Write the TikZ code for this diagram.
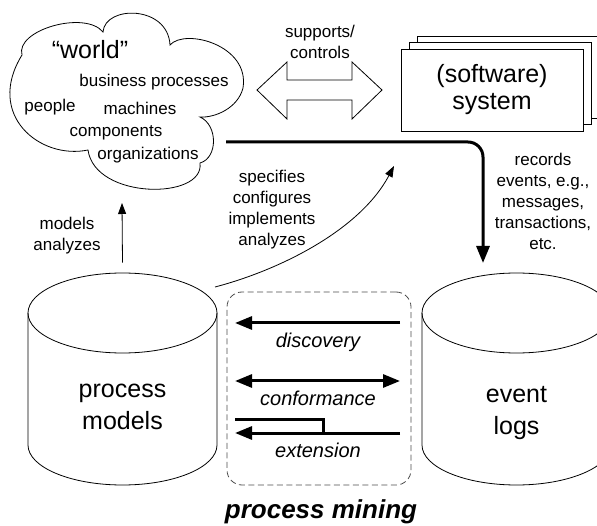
\documentclass[tikz,border=0pt]{standalone}
\usepackage{fontspec}
\setmainfont{Liberation Sans}
\usetikzlibrary{arrows.meta}

\tikzset{
  small/.style={font=\fontsize{17}{21}\selectfont, align=center, inner sep=0pt},
  big/.style={font=\fontsize{25}{32}\selectfont, align=center, inner sep=0pt},
  mining/.style={font=\fontsize{20}{24}\selectfont\itshape, inner sep=0pt},
  dbbox/.style={minimum width=189pt, minimum height=211pt, inner sep=0pt},
  heavy/.style={line width=3pt},
  bigtip/.style={-{Triangle[length=17pt,width=13pt]}},
  thintip/.style={-{Triangle[length=11pt,width=8pt]}},
}

\begin{document}
\begin{tikzpicture}[x=1pt,y=-1pt,line width=0.8pt]
\useasboundingbox (0,0) rectangle (597,526);

% the "world" cloud
\draw (103,32) .. controls (105,5) and (168,5) .. (170,45)
  .. controls (185,28) and (250,45) .. (243,88)
  .. controls (238,108) and (215,118) .. (200,117)
  .. controls (218,125) and (218,158) .. (200,163)
  .. controls (205,200) and (95,200) .. (88,150)
  .. controls (40,160) and (-15,115) .. (22,55)
  .. controls (15,30) and (85,10) .. (103,32) -- cycle;
\node[font=\fontsize{25}{30}\selectfont, inner sep=0pt] (world) at (90,50) {“world”};
\node[small] (bp) at (154,82) {business processes};
\node[small] (people) at (50,107) {people};
\node[small] (machines) at (140,108) {machines};
\node[small] (components) at (116,133) {components};
\node[small] (organizations) at (148,155) {organizations};

% supports/controls
\draw (257,90) -- (287,62) -- (287,80) -- (352,80) -- (352,62) -- (382,90)
  -- (352,119) -- (352,100) -- (287,100) -- (287,119) -- cycle;
\node[small] (supports) at (320,42) {supports/\\controls};

% (software) system
\foreach \s in {2,1}
  \filldraw[fill=white] (401+8*\s,49-6.5*\s) rectangle (583+8*\s,131-6.5*\s);
\node[draw, fill=white, big, font=\fontsize{25}{27}\selectfont,
  minimum width=182pt, minimum height=82pt] (system) at (492,90) {(software)\\system};

% models and logs (cylinders)
\foreach \n/\x in {pm/122.5,logs/516.5}{
  \node[dbbox] (\n) at (\x,379.5) {};
  \draw (\x,313) ellipse [x radius=94.5pt, y radius=40pt];
  \draw (\x-94.5,313) -- (\x-94.5,445)
    arc [start angle=180, end angle=360, x radius=94.5pt, y radius=40pt]
    -- (\x+94.5,313);
}
\node[big] (pmtext) at ([yshift=-27pt]pm.center) {process\\models};
\node[big] (logstext) at ([yshift=-34pt]logs.center) {event\\logs};

% records
\coordinate (cloudout) at (226,142);
\coordinate (logsin) at (483,263);
\draw[heavy, bigtip, rounded corners=15pt] (cloudout) -| (logsin);
\node[small] (records) at (543,201) {records\\events, e.g.,\\messages,\\transactions,\\etc.};

% models/analyzes
\coordinate (worldbottom) at (122,203);
\draw[thintip] ([yshift=11pt]pm.north) -- (worldbottom);
\node[small] (models) at (67,236) {models\\analyzes};

% specifies
\coordinate (pmcorner) at (215,287);
\coordinate (worldspec) at (394,166);
\draw[thintip] (pmcorner) .. controls (280,270) and (360,230) .. (worldspec);
\node[small] (specifies) at (272,210) {specifies\\configures\\implements\\analyzes};

% process mining
\node[draw=black!70, dash pattern=on 6pt off 3.5pt, rounded corners=15pt,
  minimum width=184pt, minimum height=193pt] (pmbox) at (319,388.5) {};
\foreach \n/\y in {disc/323,conf/381,ext/433}{
  \coordinate (\n R) at (400,\y);
  \coordinate (\n L) at (235,\y);
}
\coordinate (extK) at (323,419);
\draw[heavy, bigtip] (discR) -- (discL);
\draw[heavy, {Triangle[length=17pt,width=13pt]}-{Triangle[length=17pt,width=13pt]}] (confL) -- (confR);
\draw[heavy, bigtip] (extR) -- (extL);
\draw[heavy] (extK -| extL) -| (extK |- extR);
\node[mining] (discovery) at (318,342) {discovery};
\node[mining] (conformance) at (318,398) {conformance};
\node[mining] (extension) at (318,450) {extension};
\node[font=\fontsize{26}{30}\selectfont\bfseries\itshape, inner sep=0pt] (mining) at (321,512) {process mining};
\end{tikzpicture}
\end{document}
